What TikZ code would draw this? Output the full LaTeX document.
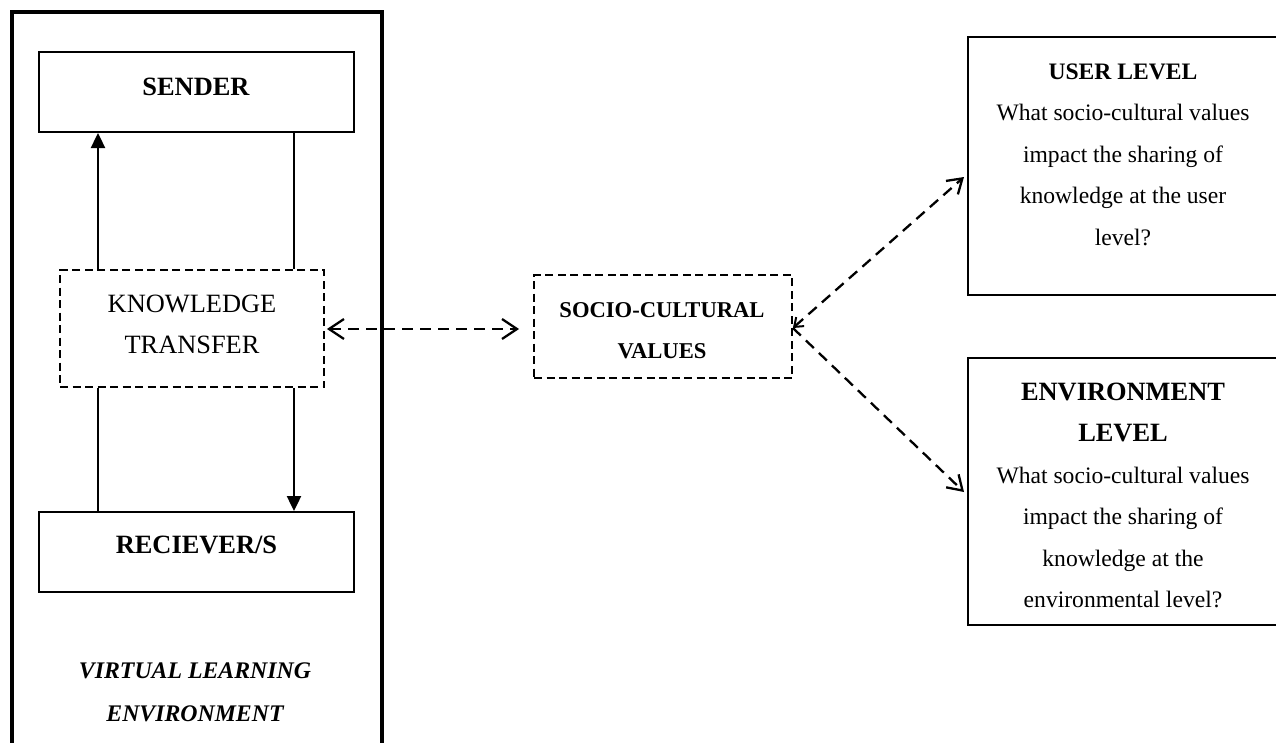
\documentclass[tikz,border=0pt]{standalone}
\usepackage{fontspec}
\setmainfont{Liberation Serif}
\usetikzlibrary{arrows.meta,calc}
\newcommand\mlines[1]{\begin{tabular}[t]{@{}c@{}}#1\end{tabular}}
\tikzset{
  box/.style={draw, line width=2pt, rectangle, inner sep=0pt},
  dbox/.style={draw, line width=1.8pt, dash pattern=on 8pt off 4.5pt, rectangle, inner sep=0pt},
  txt/.style={inner sep=0pt, anchor=base},
  bigfont/.style={font=\fontsize{26.4}{41}\selectfont},
  bigbold/.style={font=\fontsize{26.4}{41}\selectfont\bfseries},
  midfont/.style={font=\fontsize{23.6}{41.5}\selectfont},
  midbold/.style={font=\fontsize{23.6}{41.5}\selectfont\bfseries},
  scvfont/.style={font=\fontsize{22.6}{41}\selectfont\bfseries},
  vlefont/.style={font=\fontsize{23.8}{43.5}\selectfont\bfseries\itshape},
  solidarr/.style={line width=2.4pt, -{Triangle[length=15pt,width=14pt]}},
  solidline/.style={line width=2.4pt},
  dline/.style={line width=2.3pt, dash pattern=on 11pt off 7pt},
}
\begin{document}
\begin{tikzpicture}[x=1pt,y=-1pt]
\useasboundingbox (0,0) rectangle (1276,742);
\clip (0,0) rectangle (1276,742);
\fill[white] (0,0) rectangle (1276,742);

% outer virtual learning environment frame
\node[box, line width=3.6pt, minimum width=370, minimum height=780, anchor=north west] (vle) at (10,10) {};

% left boxes
\node[box, minimum width=315, minimum height=80] (sender) at (196.5,92) {};
\node[dbox, minimum width=264, minimum height=117] (kt) at (192,328.5) {};
\node[box, minimum width=315, minimum height=80] (recv) at (196.5,552) {};

% middle and right boxes
\node[dbox, minimum width=258, minimum height=103] (scv) at (663,326.5) {};
\node[box, minimum width=310, minimum height=258] (user) at (1123,166) {};
\node[box, minimum width=310, minimum height=267] (env) at (1123,491.5) {};

% texts
\node[txt, bigbold] (tsender) at (196,95) {SENDER};
\node[txt, bigfont] (tkt) at (192,312) {\mlines{KNOWLEDGE\\TRANSFER}};
\node[txt, bigbold] (trecv) at (196.5,553) {RECIEVER/S};
\node[txt, vlefont] (tvle) at (195,678) {\mlines{VIRTUAL LEARNING\\ENVIRONMENT}};
\node[txt, scvfont] (tscv) at (662,317) {\mlines{SOCIO-CULTURAL\\VALUES}};
\node[txt, midfont] (tuser) at (1123,79) {\mlines{\textbf{USER LEVEL}\\What socio-cultural values\\impact the sharing of\\knowledge at the user\\level?}};
\node[txt, midfont] (tenv) at (1123,400) {\mlines{\textbf{\fontsize{26.4}{40}\selectfont ENVIRONMENT}\\\textbf{\fontsize{26.4}{40}\selectfont LEVEL}\\What socio-cultural values\\impact the sharing of\\knowledge at the\\environmental level?}};

% vertical connectors
\coordinate (xl) at (98,0);
\coordinate (xr) at (294,0);
\draw[solidarr] (kt.north -| xl) -- (sender.south -| xl);
\draw[solidline] (sender.south -| xr) -- (kt.north -| xr);
\draw[solidline] (kt.south -| xl) -- (recv.north -| xl);
\draw[solidarr] (kt.south -| xr) -- (recv.north -| xr);

% dashed connectors
\draw[dline, {Straight Barb[length=15pt,width=20pt,line width=2.3pt]}-{Straight Barb[length=15pt,width=20pt,line width=2.3pt]}, shorten <=2pt, shorten >=14pt]
  ($(kt.east)+(0,0.5)$) -- ($(kt.east -| scv.west)+(0,0.5)$);
\draw[dline, {Straight Barb[length=8pt,width=12pt,line width=2pt]}-{Straight Barb[length=14pt,width=18pt,line width=2.3pt]}]
  ($(scv.east)+(0,1.5)$) -- ($(user.west)+(-3,11)$);
\draw[dline, -{Straight Barb[length=14pt,width=18pt,line width=2.3pt]}]
  ($(scv.east)+(0,1.5)$) -- ($(env.west)+(-3,0.5)$);
\end{tikzpicture}
\end{document}
